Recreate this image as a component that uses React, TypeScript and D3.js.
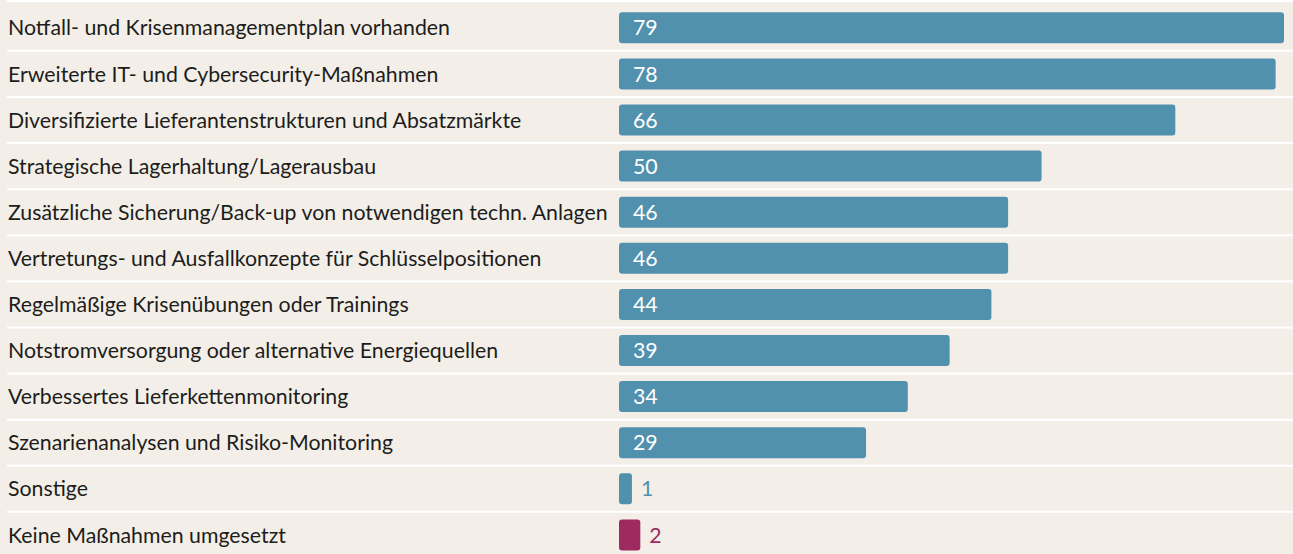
import React, { useRef, useEffect } from 'react';
import * as d3 from 'd3';

const categories = [
  'Notfall- und Krisenmanagementplan vorhanden',
  'Erweiterte IT- und Cybersecurity-Maßnahmen',
  'Diversifizierte Lieferantenstrukturen und Absatzmärkte',
  'Strategische Lagerhaltung/Lagerausbau',
  'Zusätzliche Sicherung/Back-up von notwendigen techn. Anlagen',
  'Vertretungs- und Ausfallkonzepte für Schlüsselpositionen',
  'Regelmäßige Krisenübungen oder Trainings',
  'Notstromversorgung oder alternative Energiequellen',
  'Verbessertes Lieferkettenmonitoring',
  'Szenarienanalysen und Risiko-Monitoring',
  'Sonstige',
  'Keine Maßnahmen umgesetzt',
];
const values = [79, 78, 66, 50, 46, 46, 44, 39, 34, 29, 1, 2];
const highlighted = ['Keine Maßnahmen umgesetzt'];

const App = () => {
  const svgRef = useRef<SVGSVGElement>(null);
  const width = 1293;
  const height = 554;
  const bg = '#f3efe8';
  const blue = '#5291ae';
  const magenta = '#9e2a5f';
  const textColor = '#1d1d1b';
  const fontFamily = 'Lato, "Noto Sans", sans-serif';

  useEffect(() => {
    const svg = d3.select(svgRef.current);
    svg.selectAll('*').remove();

    const data = categories.map((name, i) => ({ name, value: values[i] }));

    const y = d3.scaleBand<string>()
      .domain(categories)
      .range([4.75, 4.75 + 46.1 * categories.length])
      .paddingInner(0.3275)
      .paddingOuter(0.3275 / 2);

    const x = d3.scaleLinear().domain([0, 79]).range([623.6, 1284]);
    const barStart = 619;
    const gap = y.step() - y.bandwidth();

    svg.append('rect')
      .attr('width', width)
      .attr('height', height)
      .attr('fill', bg);

    // separators
    svg.selectAll('line.sep')
      .data(data)
      .enter()
      .append('line')
      .attr('class', 'sep')
      .attr('x1', 7)
      .attr('x2', width)
      .attr('y1', (d, i) => (i === 0 ? 1 : y(d.name)! - gap / 2))
      .attr('y2', (d, i) => (i === 0 ? 1 : y(d.name)! - gap / 2))
      .attr('stroke', '#ffffff')
      .attr('stroke-width', 2);

    const colorOf = (d: { name: string }) => (highlighted.includes(d.name) ? magenta : blue);

    svg.selectAll('rect.bar')
      .data(data)
      .enter()
      .append('rect')
      .attr('class', 'bar')
      .attr('x', barStart)
      .attr('y', d => y(d.name)!)
      .attr('width', d => x(d.value) - barStart)
      .attr('height', y.bandwidth())
      .attr('rx', 3)
      .attr('fill', colorOf);

    svg.selectAll('text.label')
      .data(data)
      .enter()
      .append('text')
      .attr('class', 'label')
      .attr('x', 8)
      .attr('y', d => y(d.name)! + y.bandwidth() / 2)
      .attr('dy', '0.36em')
      .style('font-family', fontFamily)
      .style('font-size', '21.3px')
      .style('fill', textColor)
      .text(d => d.name);

    svg.selectAll('text.value')
      .data(data)
      .enter()
      .append('text')
      .attr('class', 'value')
      .attr('x', d => (d.value > 5 ? barStart + 14 : x(d.value) + 9))
      .attr('y', d => y(d.name)! + y.bandwidth() / 2)
      .attr('dy', '0.36em')
      .style('font-family', fontFamily)
      .style('font-size', '21.3px')
      .style('fill', d => (d.value > 5 ? '#ffffff' : colorOf(d)))
      .text(d => d.value);
  }, []);

  return (
    <svg
      ref={svgRef}
      width={width}
      height={height}
      style={{ position: 'absolute', left: 0, top: 0, display: 'block' }}
    />
  );
};

export default App;
